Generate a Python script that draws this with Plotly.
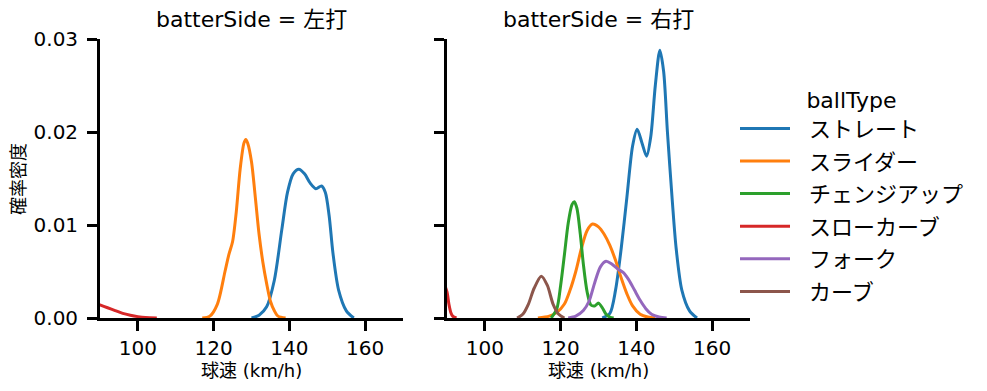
import plotly.graph_objects as go

FONT = "DejaVu Sans, Noto Sans CJK JP"

panel_titles = ["batterSide = 左打", "batterSide = 右打"]
x_label = "球速 (km/h)"
y_label = "確率密度"
legend_title = "ballType"
ball_types = ["ストレート", "スライダー", "チェンジアップ", "スローカーブ", "フォーク", "カーブ"]
colors = ["#1f77b4", "#ff7f0e", "#2ca02c", "#d62728", "#9467bd", "#8c564b"]

# ---- left panel (左打) ----
L_straight_x = [130, 132, 134, 136, 138, 139.5, 141, 142.5, 144, 145.5, 147, 148.5, 149.5, 150.5, 151.5, 153, 155, 157]
L_straight_y = [0, 0.0003, 0.0012, 0.004, 0.0095, 0.0135, 0.0155, 0.016, 0.0155, 0.0145, 0.0139, 0.0142, 0.0135, 0.011, 0.007, 0.003, 0.0008, 0]
L_slider_x = [117, 119, 121, 123, 124, 125, 126, 127, 128, 128.5, 129, 130, 131, 132, 133, 134, 135, 136, 137, 139]
L_slider_y = [0, 0.0002, 0.0015, 0.005, 0.0068, 0.0082, 0.0115, 0.016, 0.0188, 0.0192, 0.0188, 0.0168, 0.013, 0.009, 0.006, 0.0037, 0.0018, 0.0008, 0.0002, 0]
L_slowcurve_x = [86, 88, 90, 92, 94, 96, 98, 100, 102, 105]
L_slowcurve_y = [0.0019, 0.0017, 0.0014, 0.0011, 0.0008, 0.0005, 0.0003, 0.00015, 0.00005, 0]

# ---- right panel (右打) ----
R_straight_x = [131, 133, 134.5, 136, 137.5, 139, 140.2, 141.5, 142.7, 143.8, 145, 146.2, 147.2, 148.2, 149.5, 150.5, 152, 154, 156]
R_straight_y = [0, 0.0005, 0.003, 0.0075, 0.013, 0.0185, 0.0203, 0.0188, 0.0174, 0.0195, 0.025, 0.0288, 0.0265, 0.02, 0.0125, 0.0075, 0.003, 0.0008, 0]
R_slider_x = [114, 117, 119, 121, 122.5, 124, 125.5, 127, 128.4, 130, 131.5, 133, 134.5, 136, 137.5, 139, 141, 143, 145]
R_slider_y = [0, 0.0002, 0.0006, 0.0015, 0.003, 0.005, 0.0075, 0.0094, 0.0101, 0.0098, 0.009, 0.0078, 0.0062, 0.0043, 0.0026, 0.0013, 0.0004, 0.0001, 0]
R_change_x = [117.5, 119, 120, 121, 122, 123, 123.6, 124.3, 125.2, 126, 127, 128, 129, 130, 131, 132, 133, 134]
R_change_y = [0, 0.001, 0.0035, 0.0068, 0.0102, 0.0122, 0.0125, 0.0118, 0.009, 0.0058, 0.0028, 0.0014, 0.0013, 0.0016, 0.0011, 0.0004, 0.0001, 0]
R_slowcurve_x = [87, 88, 89, 90, 90.5, 91, 91.5, 92.5]
R_slowcurve_y = [0.006, 0.005, 0.004, 0.0028, 0.0015, 0.0006, 0.0002, 0]
R_fork_x = [122, 124, 126, 127.5, 129, 130.5, 132, 133.5, 135, 136.5, 138, 139.5, 141, 142.5, 144, 146, 148]
R_fork_y = [0, 0.0002, 0.0008, 0.0018, 0.0038, 0.0055, 0.0061, 0.0058, 0.0053, 0.0049, 0.0041, 0.003, 0.0019, 0.001, 0.0004, 0.0001, 0]
R_curve_x = [108.5, 110, 111.5, 113, 114.9, 116.5, 118, 119.5, 121]
R_curve_y = [0, 0.0004, 0.0015, 0.0032, 0.0045, 0.0035, 0.0015, 0.0004, 0]

series = {
    "ストレート": [("L", L_straight_x, L_straight_y), ("R", R_straight_x, R_straight_y)],
    "スライダー": [("L", L_slider_x, L_slider_y), ("R", R_slider_x, R_slider_y)],
    "チェンジアップ": [("R", R_change_x, R_change_y)],
    "スローカーブ": [("L", L_slowcurve_x, L_slowcurve_y), ("R", R_slowcurve_x, R_slowcurve_y)],
    "フォーク": [("R", R_fork_x, R_fork_y)],
    "カーブ": [("R", R_curve_x, R_curve_y)],
}

x_ticks = [100, 120, 140, 160]
y_ticks = [0.0, 0.01, 0.02, 0.03]
y_ticktext = ["0.00", "0.01", "0.02", "0.03"]

PAD = "\u00a0\u00a0"  # spacing between legend line sample and label

fig = go.Figure()
for bt, col in zip(ball_types, colors):
    first = True
    for side, xs, ys in series[bt]:
        fig.add_trace(go.Scatter(
            x=xs, y=ys, mode="lines", name=PAD + bt, legendgroup=bt,
            showlegend=first,
            xaxis="x" if side == "L" else "x2",
            yaxis="y" if side == "L" else "y2",
            line=dict(color=col, width=3, shape="spline", smoothing=0.8),
        ))
        first = False

W, H = 987, 391
ytop, ybot = 39, 318
dom_y = [1 - ybot / H, 1 - ytop / H]
domL = [100 / W, 403 / W]
domR = [447 / W, 750 / W]

line_common = dict(showline=True, linecolor="black", linewidth=2.8,
                   ticks="outside", ticklen=10, tickwidth=2.5, tickcolor="black",
                   showgrid=False, zeroline=False, automargin=False, mirror=False)
xcommon = dict(range=[90, 170], tickvals=x_ticks,
               tickfont=dict(size=20, color="black", family=FONT), **line_common)
ycommon = dict(domain=dom_y, range=[0, 0.03], tickvals=y_ticks, ticktext=y_ticktext,
               tickfont=dict(size=20, color="black", family=FONT), **line_common)

fig.update_layout(
    template="none",
    width=W, height=H, margin=dict(l=0, r=0, t=0, b=0, autoexpand=False),
    plot_bgcolor="white", paper_bgcolor="white",
    font=dict(family=FONT, color="black"),
    showlegend=True,
    xaxis=dict(domain=domL, anchor="y", **xcommon),
    xaxis2=dict(domain=domR, anchor="y2", **xcommon),
    yaxis=dict(anchor="x", ticklabelstandoff=5, **ycommon),
    yaxis2=dict(anchor="x2", showticklabels=False, matches="y", **ycommon),
    legend=dict(x=735 / W, xanchor="left", y=1 - 79 / H, yanchor="top",
                title=dict(text=legend_title, side="top center", font=dict(size=22, family=FONT)),
                font=dict(size=22, family=FONT), itemwidth=50, tracegroupgap=1,
                bgcolor="rgba(0,0,0,0)", borderwidth=0),
)

# panel titles and axis labels
for t, dom in zip(panel_titles, [domL, domR]):
    fig.add_annotation(text=t, x=(dom[0] + dom[1]) / 2, y=1 - 20 / H, xref="paper", yref="paper",
                       showarrow=False, font=dict(size=22, color="black", family=FONT),
                       xanchor="center", yanchor="middle")
    fig.add_annotation(text=x_label, x=(dom[0] + dom[1]) / 2, y=1 - 370 / H, xref="paper", yref="paper",
                       showarrow=False, font=dict(size=18, color="black", family=FONT),
                       xanchor="center", yanchor="middle")
fig.add_annotation(text=y_label, x=18 / W, y=1 - 179 / H, xref="paper", yref="paper",
                   showarrow=False, textangle=-90, font=dict(size=18, color="black", family=FONT),
                   xanchor="center", yanchor="middle")

fig.write_html("out.html", config={"displayModeBar": False},
               post_script="document.body.style.margin='0';")
